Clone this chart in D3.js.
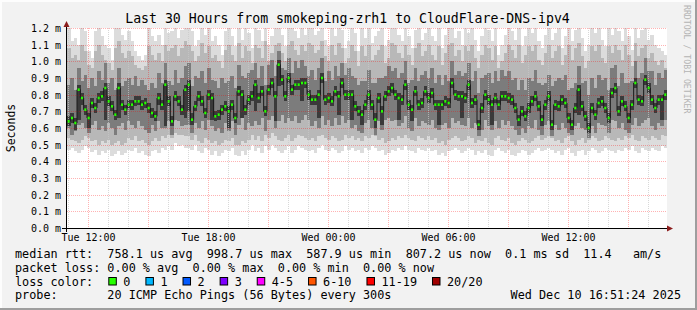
<!DOCTYPE html>
<html>
<head>
<meta charset="utf-8">
<script src="https://cdn.jsdelivr.net/npm/d3@7"></script>
<style>
  html, body { margin: 0; padding: 0; background: #f2f2f2; }
  svg { display: block; }
  text { font-family: "DejaVu Sans Mono", monospace; white-space: pre; }
</style>
</head>
<body>
<div class="chart"></div>
<script>
const WIDTH = 697;
const HEIGHT = 310;

// one column every 10 minutes, Tue 10:57 -> Wed 16:57
const START = new Date(2025, 11, 9, 10, 57);
const END = new Date(2025, 11, 10, 16, 57);
const STEP_MIN = 10;

// round trip times in microseconds
const MEDIAN = [
  640,660,630,830,780,710,660,750,720,780,790,840,760,730,680,840,740,710,740,740,760,760,740,750,720,690,670,780,740,860,760,640,790,760,710,830,
  860,650,730,790,760,690,800,780,670,680,710,730,700,740,660,820,800,710,770,790,860,780,820,700,830,870,790,980,890,790,900,830,860,860,870,870,
  800,770,770,800,900,770,780,760,820,790,870,800,800,800,730,700,680,740,800,740,650,780,700,790,820,840,800,780,770,860,740,710,820,740,750,820,
  780,810,740,740,740,760,750,870,800,790,790,780,860,750,770,620,720,800,770,740,780,740,790,790,780,770,720,650,700,670,720,760,790,730,650,740,
  790,620,740,730,770,750,660,620,720,830,730,670,600,720,680,750,760,720,660,810,840,700,760,730,660,740,870,770,760,890,840,770,720,770,770,800
];

// smoke: outer pings (lightest) to inner pings (darkest)
const SMOKE_HI1 = [
  1200,1120,1140,1100,1200,1180,1060,1020,1180,1200,1150,1100,1080,1010,1200,1200,1160,1130,1180,1120,1060,1030,1010,1040,1200,1150,1120,1160,1100,1200,1170,1180,1200,1140,1190,1200,
  1200,1180,1090,1130,1200,1160,1200,1120,1150,1100,1040,1180,1200,1150,1090,1200,1130,1200,1170,1080,1200,1190,1120,1200,1100,1150,1200,1200,1160,1090,1200,1200,1180,1140,1200,1160,
  1200,1200,1160,1180,1200,1130,1090,1200,1150,1200,1190,1080,1120,1200,1170,1060,1200,1140,1200,1110,1150,1180,1200,1090,1130,1200,1200,1160,1120,1200,1150,1080,1190,1200,1130,1170,
  1200,1150,1120,1200,1080,1160,1200,1200,1140,1180,1100,1200,1170,1200,1130,1060,1150,1200,1190,1120,1200,1040,1100,1160,1200,1180,1130,1200,1090,1150,1200,1170,1200,1120,1080,1160,
  1200,1130,1170,1200,1080,1150,1200,1120,1190,1200,1140,1060,1100,1200,1170,1200,1130,1090,1200,1160,1200,1180,1120,1200,1150,1070,1200,1140,1190,1200,1130,1160,1100,1080,1060,1040
];
const SMOKE_LO1 = [
  470,480,460,450,470,490,480,455,470,440,460,450,470,430,445,460,440,450,470,460,480,450,460,440,430,460,470,450,480,470,490,470,510,490,500,480,
  480,470,500,460,450,480,470,440,460,430,450,470,460,480,440,430,460,440,470,500,460,480,450,490,470,500,480,460,450,470,490,450,470,490,480,470,
  460,470,450,480,500,470,460,480,470,450,460,490,470,480,460,470,450,480,470,490,480,460,470,440,450,470,460,480,470,490,470,460,450,480,470,460,
  480,460,470,440,450,430,460,470,480,470,450,460,480,470,440,460,450,470,440,430,470,480,460,450,470,440,430,450,470,460,440,450,470,480,460,470,
  480,470,450,460,440,470,480,450,430,460,470,440,460,480,470,450,460,480,470,460,450,470,460,480,470,490,460,450,480,470,460,480,470,460,490,480
];
const SMOKE_HI2 = [
  1080,1020,1040,1010,1100,1060,980,960,1060,1100,1040,1010,990,950,1080,1120,1050,1020,1060,1030,980,960,950,970,1090,1040,1010,1050,1000,1100,1060,1080,1100,1030,1080,1120,
  1100,1060,1000,1030,1110,1050,1090,1020,1040,1000,960,1070,1100,1040,1000,1110,1020,1090,1060,990,1100,1080,1020,1120,1000,1050,1100,1110,1050,1000,1100,1120,1070,1040,1100,1060,
  1110,1100,1050,1070,1120,1030,1000,1100,1040,1110,1080,990,1020,1100,1060,970,1090,1030,1100,1010,1040,1070,1100,990,1020,1110,1100,1050,1020,1100,1040,980,1080,1110,1030,1060,
  1100,1040,1010,1090,980,1050,1100,1110,1030,1070,1000,1090,1060,1100,1020,960,1040,1100,1080,1010,1090,960,1000,1050,1100,1070,1020,1100,990,1040,1090,1060,1100,1010,980,1050,
  1100,1020,1060,1090,980,1040,1100,1010,1080,1110,1030,960,1000,1090,1060,1100,1020,990,1090,1050,1100,1070,1010,1100,1040,970,1110,1030,1080,1100,1020,1050,1000,980,1010,960
];
const SMOKE_LO2 = [
  540,530,520,510,530,550,540,520,530,500,520,510,530,500,510,520,500,510,540,530,550,520,530,510,500,520,540,520,550,540,560,540,570,560,560,550,
  550,530,560,520,510,540,530,510,520,500,510,530,520,540,500,500,520,510,530,560,530,550,520,560,540,570,550,530,520,540,560,520,540,560,550,540,
  530,540,520,550,560,540,530,550,540,520,530,560,540,550,530,540,520,550,540,560,550,530,540,510,520,540,530,550,540,560,540,530,520,550,540,530,
  550,530,540,510,520,500,530,540,550,540,520,530,550,540,510,530,520,540,510,500,540,550,530,520,540,510,500,520,540,530,510,520,540,550,530,540,
  550,540,520,530,510,540,550,520,500,530,540,510,530,550,540,520,530,550,540,530,520,540,530,550,540,560,530,520,550,540,530,550,540,530,560,550
];
const SMOKE_HI3 = [
  860,900,830,960,880,920,840,900,850,940,890,990,870,900,830,960,850,880,900,860,910,850,890,860,830,870,840,930,870,990,880,860,950,870,900,970,
  990,850,910,900,940,870,960,890,880,840,900,870,880,910,840,980,910,900,930,950,990,900,970,860,980,1010,910,1060,960,950,1020,930,1000,960,1010,970,
  910,950,890,960,1020,880,940,890,970,910,990,920,960,910,900,860,880,880,950,870,870,900,900,910,970,940,960,900,930,1000,870,890,960,880,920,940,
  900,960,870,920,860,920,880,1000,920,940,910,930,990,880,940,810,900,920,930,870,940,880,950,910,940,890,900,830,890,830,900,880,950,870,860,870,
  920,850,880,900,890,920,830,840,870,970,870,880,800,900,840,920,890,900,830,960,980,850,930,870,870,880,1000,900,930,1020,940,940,860,930,900,950
];
const SMOKE_LO3 = [
  600,560,580,620,630,600,570,620,640,590,610,580,630,600,560,610,630,590,640,620,600,640,610,590,570,620,580,640,600,600,640,560,650,640,610,620,
  620,570,630,600,640,590,650,610,580,600,570,630,580,640,560,620,660,590,630,610,640,620,660,580,650,670,600,640,680,630,660,640,670,630,650,680,
  650,610,640,600,670,620,650,610,660,620,670,630,650,600,620,580,570,630,650,600,560,640,590,650,660,640,650,610,630,670,600,580,660,610,640,630,
  620,650,600,590,620,630,600,660,630,640,620,610,660,600,630,550,590,650,610,590,640,600,650,620,640,610,590,560,600,570,610,600,650,590,560,620,
  640,550,620,590,630,600,570,560,610,630,600,590,540,610,570,630,620,610,570,650,640,600,630,590,570,620,660,610,630,650,660,610,590,630,610,650
];
const SMOKE_HI4 = [
  670,690,660,860,810,740,690,780,750,810,820,870,790,760,710,870,770,740,770,770,790,790,770,780,750,720,700,810,770,890,790,670,820,790,740,860,
  890,690,760,820,790,720,830,810,700,710,740,760,730,770,690,850,830,740,800,820,890,810,850,730,860,900,820,1010,920,820,930,860,890,890,900,900,
  830,800,800,830,930,800,810,790,850,820,900,830,830,830,760,730,710,770,830,770,690,810,730,820,850,870,830,810,800,890,770,740,850,770,780,850,
  810,840,770,770,770,790,780,900,830,820,820,810,890,780,800,650,750,830,800,770,810,770,820,820,810,800,750,680,730,700,750,790,820,760,680,770,
  820,650,770,760,800,780,690,650,750,860,760,700,630,750,710,780,790,750,690,840,870,730,790,760,690,770,900,800,790,920,870,800,750,800,800,830
];
const SMOKE_LO4 = [
  610,630,590,650,740,680,600,720,690,750,760,650,730,700,650,660,710,680,720,710,730,740,710,720,690,660,640,740,710,610,730,610,760,730,680,660,
  700,620,700,760,730,660,770,650,640,650,680,700,600,710,630,790,660,680,740,760,700,750,790,670,800,840,640,850,860,760,870,800,830,830,760,840,
  770,740,740,660,870,740,750,730,790,680,840,770,770,650,700,670,620,710,770,710,600,750,620,760,790,810,770,650,740,830,710,640,790,710,720,790,
  750,780,710,620,710,730,720,840,770,760,660,750,830,720,740,590,690,770,740,620,750,710,760,760,750,740,690,610,670,640,690,730,760,700,610,710,
  760,590,710,700,740,720,630,590,690,680,700,640,570,690,650,720,730,690,630,780,810,670,730,700,630,710,840,740,730,860,810,740,690,740,650,770
];

const Y_TICKS = [0, 100, 200, 300, 400, 500, 600, 700, 800, 900, 1000, 1100, 1200];

const TITLE = "Last 30 Hours from smokeping-zrh1 to CloudFlare-DNS-ipv4";
const LEGEND_RTT = "median rtt:  758.1 us avg  998.7 us max  587.9 us min  807.2 us now  0.1 ms sd  11.4   am/s";
const LEGEND_LOSS = "packet loss: 0.00 % avg  0.00 % max  0.00 % min  0.00 % now";
const LEGEND_PROBE = "probe:       20 ICMP Echo Pings (56 Bytes) every 300s";
const STAMP = "Wed Dec 10 16:51:24 2025";
const LOSS_LABELS = ["0", "1", "2", "3", "4-5", "6-10", "11-19", "20/20"];
const LOSS_COLORS = ["#26ff00", "#00b8ff", "#0059ff", "#7e00ff", "#ff00ff", "#ff5500", "#ff0000", "#a00000"];

const svg = d3.select(".chart").append("svg")
  .attr("width", WIDTH)
  .attr("height", HEIGHT);

// background + shaded frame
svg.append("rect").attr("width", WIDTH).attr("height", HEIGHT).attr("fill", "#f2f2f2");
svg.append("path").attr("d", `M1,${HEIGHT} V1 H${WIDTH}`)
  .attr("fill", "none").attr("stroke", "#fdfdfd").attr("stroke-width", 2);
svg.append("path").attr("d", `M0,${HEIGHT - 1} H${WIDTH - 1} V0`)
  .attr("fill", "none").attr("stroke", "#9e9e9e").attr("stroke-width", 2);

const x = d3.scaleTime().domain([START, END]).range([67, 667]);
const y = d3.scaleLinear().domain([0, 1200]).range([228, 28]);

svg.append("rect")
  .attr("x", x.range()[0]).attr("y", y(1200))
  .attr("width", x.range()[1] - x.range()[0]).attr("height", y(0) - y(1200))
  .attr("fill", "#ffffff");

const times = MEDIAN.map((d, i) => d3.timeMinute.offset(START, i * STEP_MIN));
const colX = (i) => x(times[i]);
const colW = (i) => x(d3.timeMinute.offset(times[i], STEP_MIN)) - x(times[i]);

// smoke
const bands = [
  { lo: SMOKE_LO1, hi: SMOKE_HI1, color: "#dcdcdc" },
  { lo: SMOKE_LO2, hi: SMOKE_HI2, color: "#b8b8b8" },
  { lo: SMOKE_LO3, hi: SMOKE_HI3, color: "#7c7c7c" },
  { lo: SMOKE_LO4, hi: SMOKE_HI4, color: "#3a3a3a" }
];

bands.forEach((band) => {
  svg.append("g")
    .attr("shape-rendering", "crispEdges")
    .selectAll("rect")
    .data(times)
    .join("rect")
    .attr("x", (d, i) => colX(i))
    .attr("width", (d, i) => colW(i) + 0.3)
    .attr("y", (d, i) => y(Math.min(band.hi[i], 1200)))
    .attr("height", (d, i) => y(band.lo[i]) - y(Math.min(band.hi[i], 1200)))
    .attr("fill", band.color);
});

// grid
const grid = svg.append("g").attr("fill", "none").attr("stroke-dasharray", "1,1");

grid.selectAll(".hgrid")
  .data(Y_TICKS.filter(v => v > 0))
  .join("line")
  .attr("x1", x.range()[0]).attr("x2", x.range()[1])
  .attr("y1", v => Math.round(y(v)) + 0.5).attr("y2", v => Math.round(y(v)) + 0.5)
  .attr("stroke", "#ff0000").attr("stroke-opacity", 0.3);

grid.selectAll(".vgrid")
  .data(d3.timeHour.range(START, END))
  .join("line")
  .attr("x1", d => Math.round(x(d)) + 0.5).attr("x2", d => Math.round(x(d)) + 0.5)
  .attr("y1", y(1200)).attr("y2", y(0))
  .attr("stroke", d => d.getHours() % 3 === 0 ? "#ff0000" : "#c8c8c8")
  .attr("stroke-opacity", d => d.getHours() % 3 === 0 ? 0.3 : 0.7);

// median (step line) + loss coloured marks; loss was 0 for every step
const medianLine = d3.line().curve(d3.curveStepAfter);
const pts = times.map((t, i) => [x(t), y(MEDIAN[i])]);
pts.push([x(END), y(MEDIAN[MEDIAN.length - 1])]);

svg.append("path")
  .attr("d", medianLine(pts))
  .attr("fill", "none")
  .attr("stroke", "#1a1a1a")
  .attr("stroke-width", 1);

svg.append("g")
  .selectAll("rect")
  .data(MEDIAN)
  .join("rect")
  .attr("x", (d, i) => colX(i) + 0.6)
  .attr("width", (d, i) => colW(i) - 1.2)
  .attr("y", d => y(d) - 1.3)
  .attr("height", 2.6)
  .attr("fill", LOSS_COLORS[0]);

// axes labels
const yAxis = svg.append("g")
  .attr("transform", `translate(${x.range()[0]},0)`)
  .call(d3.axisLeft(y).tickValues(Y_TICKS).tickSize(0).tickPadding(6)
    .tickFormat(v => d3.format(".1f")(v / 1000) + " m"));
yAxis.select(".domain").remove();
yAxis.selectAll("text")
  .attr("font-family", "DejaVu Sans Mono").attr("font-size", 10).attr("fill", "#000")
  .attr("dy", "0.35em");

const xAxis = svg.append("g")
  .attr("transform", `translate(0,${y(0)})`)
  .call(d3.axisBottom(x).ticks(d3.timeHour.every(6)).tickSize(0).tickPadding(6)
    .tickFormat(d3.timeFormat("%a %H:%M")));
xAxis.select(".domain").remove();
xAxis.selectAll("text")
  .attr("font-family", "DejaVu Sans Mono").attr("font-size", 10).attr("fill", "#000");

// axis lines with arrows
const ARROW = "#8c1d1d";
svg.append("line")
  .attr("x1", 62).attr("x2", 670)
  .attr("y1", y(0) + 0.5).attr("y2", y(0) + 0.5)
  .attr("stroke", "#000");
svg.append("line")
  .attr("x1", 66.5).attr("x2", 66.5)
  .attr("y1", y(0) + 4).attr("y2", 25)
  .attr("stroke", "#000");
svg.append("path").attr("d", "M63.5,27 L69.5,27 L66.5,21 Z").attr("fill", ARROW);
svg.append("path").attr("d", "M667,225.5 L667,231.5 L673,228.5 Z").attr("fill", ARROW);

// title, unit, watermark
svg.append("text")
  .attr("x", 347.5).attr("y", 23)
  .attr("text-anchor", "middle")
  .attr("font-size", 13.2)
  .text(TITLE);

svg.append("text")
  .attr("transform", "translate(15,128) rotate(-90)")
  .attr("text-anchor", "middle")
  .attr("font-size", 11.5)
  .text("Seconds");

svg.append("text")
  .attr("transform", "translate(684,5) rotate(90)")
  .attr("font-size", 8.2)
  .attr("fill", "#b4b4b4")
  .text("RRDTOOL / TOBI OETIKER");

// legend
const LEG_SIZE = 11.8;
const legend = svg.append("g").attr("font-size", LEG_SIZE).attr("fill", "#000");

legend.append("text").attr("x", 15).attr("y", 258).attr("xml:space", "preserve").text(LEGEND_RTT);
legend.append("text").attr("x", 15).attr("y", 272).attr("xml:space", "preserve").text(LEGEND_LOSS);
legend.append("text").attr("x", 15).attr("y", 285.5).attr("xml:space", "preserve").text("loss color:");
legend.append("text").attr("x", 15).attr("y", 299).attr("xml:space", "preserve").text(LEGEND_PROBE);
legend.append("text").attr("x", 681).attr("y", 299).attr("text-anchor", "end").text(STAMP);

let lx = 108.3;
LOSS_LABELS.forEach((label, i) => {
  legend.append("rect")
    .attr("x", lx + 0.5).attr("y", 277.5)
    .attr("width", 7.5).attr("height", 7.5)
    .attr("fill", LOSS_COLORS[i])
    .attr("stroke", "#000").attr("stroke-width", 1);
  const t = legend.append("text").attr("x", lx + 15).attr("y", 285.5).text(label);
  lx += 15 + t.node().getComputedTextLength() + 15;
});
</script>
</body>
</html>
